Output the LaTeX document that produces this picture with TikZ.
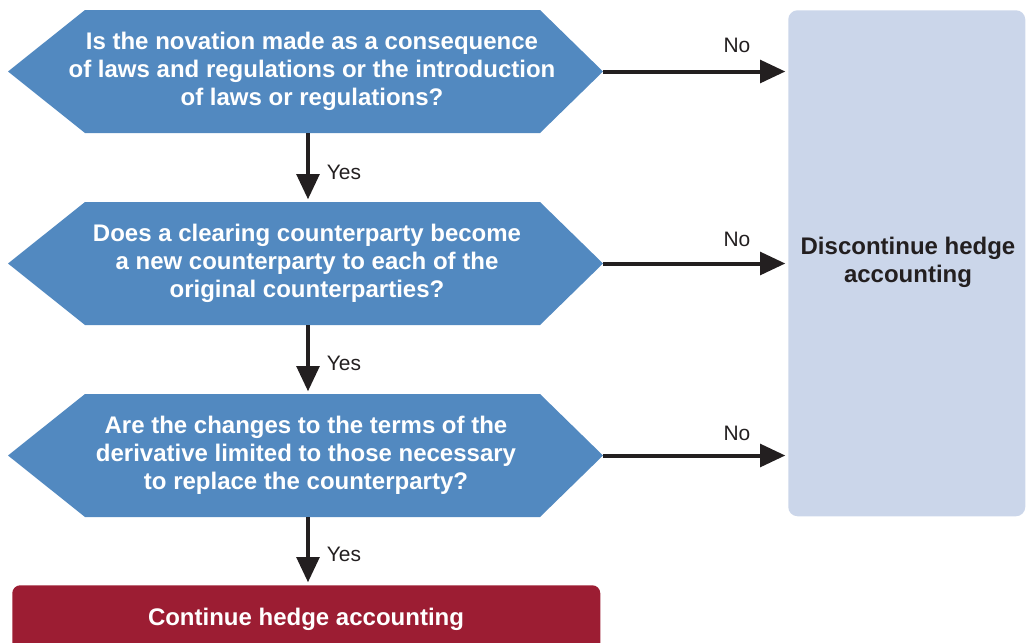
\documentclass[tikz,border=0pt]{standalone}
\usepackage{fontspec}
\setmainfont{Liberation Sans}
\usetikzlibrary{arrows.meta}
\definecolor{qblue}{HTML}{5289C0}
\definecolor{dbox}{HTML}{CBD6EA}
\definecolor{cred}{HTML}{9C1D33}
\definecolor{ink}{HTML}{231F20}
\begin{document}
\begin{tikzpicture}[x=0.75pt,y=-0.75pt,
  qtext/.style={text=white,font=\fontsize{18}{21}\selectfont\bfseries,align=center,inner sep=0pt},
  lbl/.style={text=ink,font=\fontsize{15.7}{18}\selectfont,inner sep=0pt},
  flow/.style={draw=ink,line width=3pt,-{Triangle[length=19pt,width=17pt]}},
  hexq/.style={fill=qblue}]
\useasboundingbox (0,0) rectangle (1026,643);
\clip (0,0) rectangle (1026,643);
% question hexagons
\fill[hexq] (8,71.5) -- (85,10) -- (540,10) -- (603,71.5) -- (540,133) -- (85,133) -- cycle;
\fill[hexq] (8,263.5) -- (85,202) -- (540,202) -- (603,263.5) -- (540,325) -- (85,325) -- cycle;
\fill[hexq] (8,455.5) -- (85,394) -- (540,394) -- (603,455.5) -- (540,517) -- (85,517) -- cycle;
\node[qtext] (q1) at (312,71.5) {Is the novation made as a consequence\\of laws and regulations or the introduction\\of laws or regulations?};
\node[qtext] (q2) at (307,263.5) {Does a clearing counterparty become\\a new counterparty to each of the\\original counterparties?};
\node[qtext] (q3) at (306,455.5) {Are the changes to the terms of the\\derivative limited to those necessary\\to replace the counterparty?};
\coordinate (q1r) at (603,71.5);
\coordinate (q2r) at (603,263.5);
\coordinate (q3r) at (603,455.5);
\coordinate (q1b) at (308,133);
\coordinate (q2t) at (308,202);
\coordinate (q2b) at (308,325);
\coordinate (q3t) at (308,394);
\coordinate (q3b) at (308,517);
% outcome boxes
\node[fill=dbox,rounded corners=7pt,inner sep=0pt,
  minimum width=177.75pt,minimum height=379.5pt,anchor=north west] (disc) at (788,10) {};
\node[font=\fontsize{18}{21}\selectfont\bfseries,text=ink,align=center,inner sep=0pt] (disctext) at (908,262) {Discontinue hedge\\accounting};
\node[fill=cred,rounded corners=6pt,minimum width=441pt,minimum height=60pt,inner sep=0pt,anchor=north west] (cont) at (12,585) {};
\node[qtext] (conttext) at (306,619) {Continue hedge accounting};
\coordinate (d1) at (disc.west |- q1r);
\coordinate (d2) at (disc.west |- q2r);
\coordinate (d3) at (disc.west |- q3r);
% connectors
\draw[flow,shorten >=2pt] (q1b) -- (q2t);
\draw[flow,shorten >=2pt] (q2b) -- (q3t);
\draw[flow,shorten >=2pt] (q3b) -- (q3b |- cont.north);
\draw[flow,shorten >=2pt] (q1r) -- (d1);
\draw[flow,shorten >=2pt] (q2r) -- (d2);
\draw[flow,shorten >=2pt] (q3r) -- (d3);
% labels
\node[lbl] at (344,172) {Yes};
\node[lbl] at (344,363) {Yes};
\node[lbl] at (344,554) {Yes};
\node[lbl] at (737,45) {No};
\node[lbl] at (737,239) {No};
\node[lbl] at (737,433) {No};
\end{tikzpicture}
\end{document}
